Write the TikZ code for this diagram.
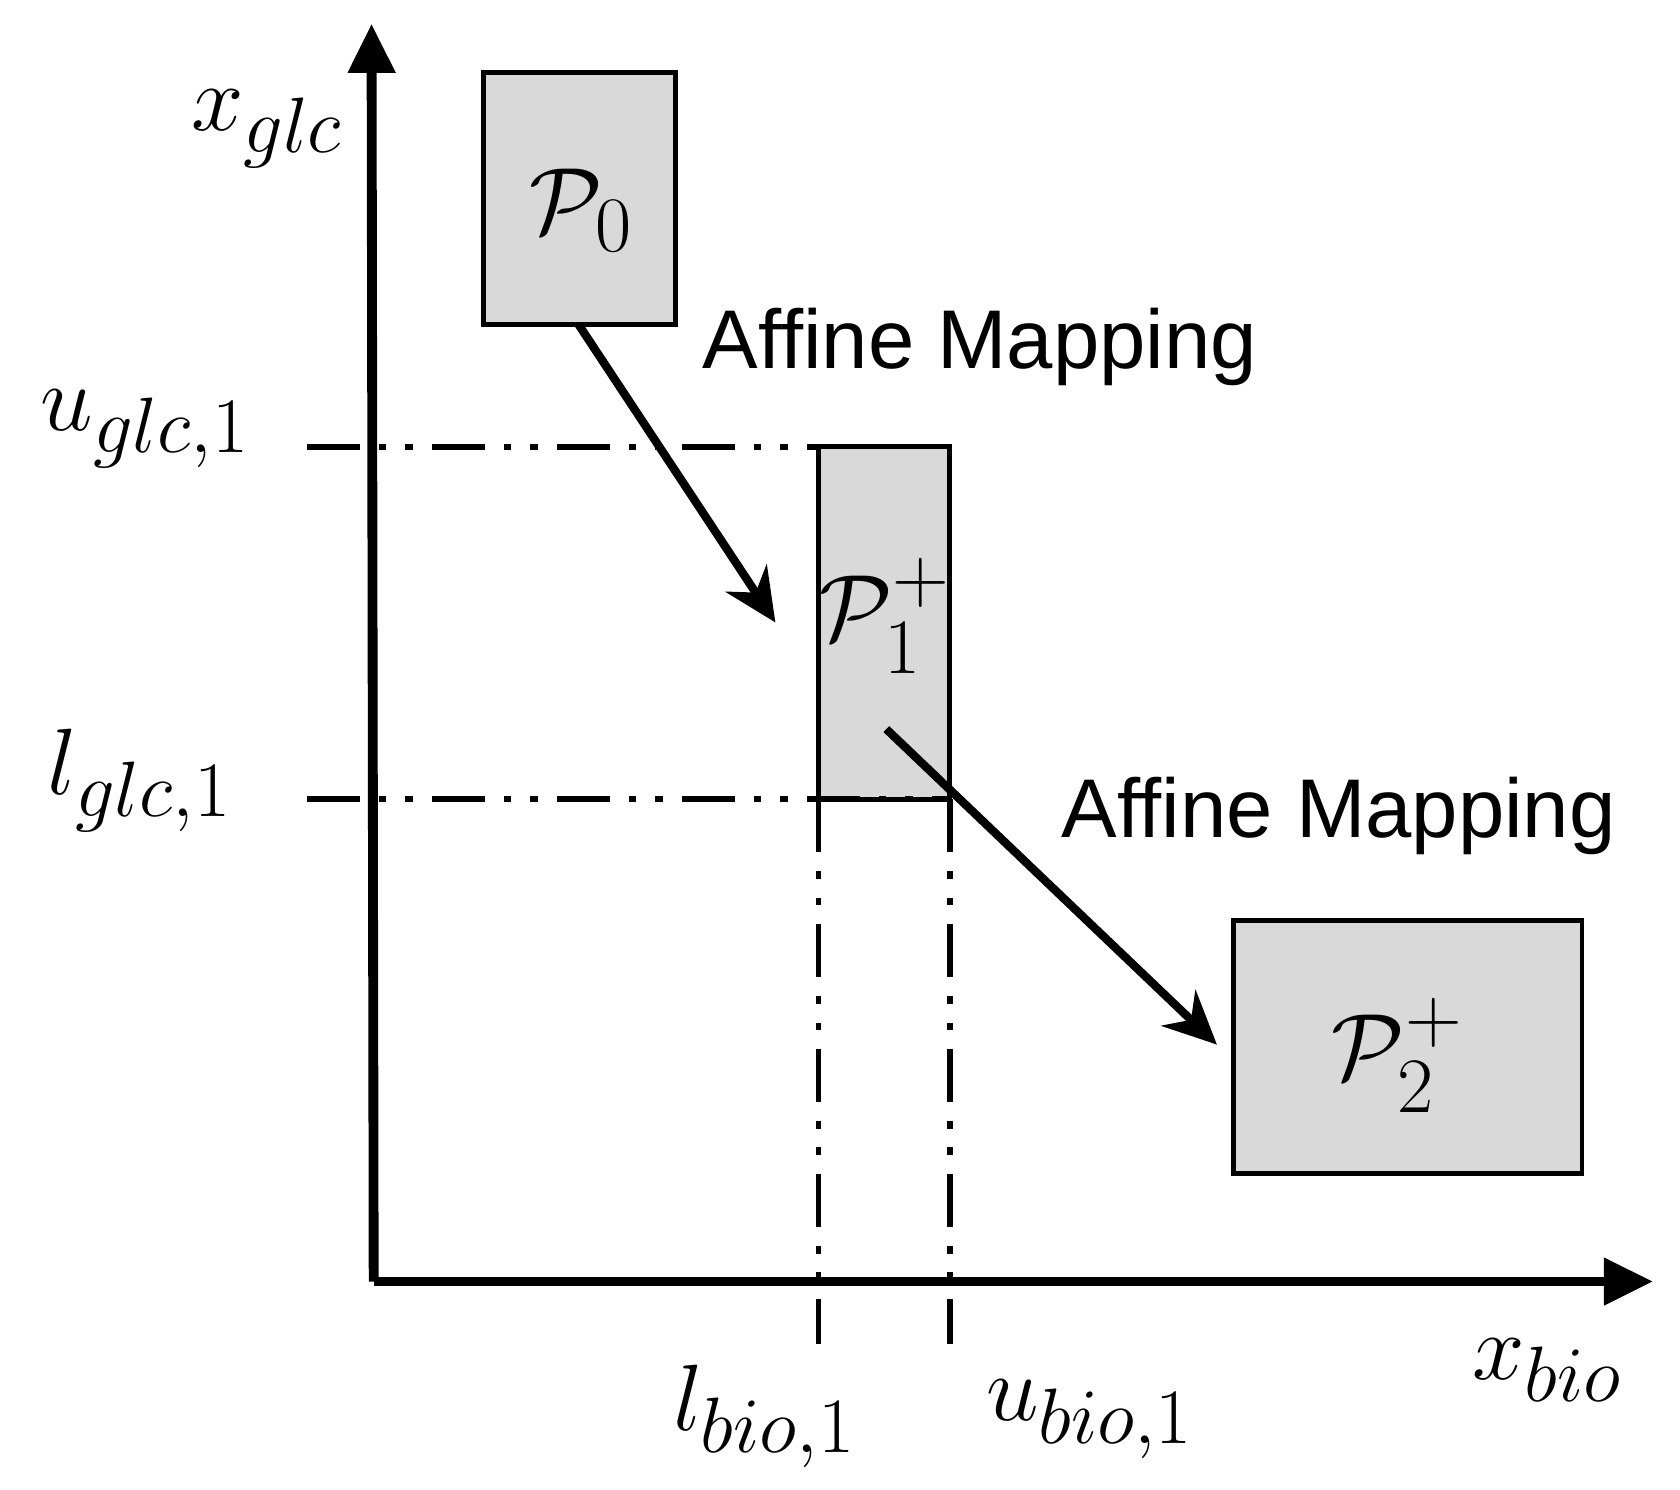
\documentclass[tikz,border=0pt]{standalone}
\usepackage{fontspec}
\setmainfont{Liberation Sans}
\usepackage{amsmath}
\usetikzlibrary{arrows.meta}
\begin{document}
\begin{tikzpicture}[x=0.01cm, y=-0.01cm,
	box/.style={draw, fill=black!15, line width=1.3pt},
	guide/.style={line width=1.4pt, dash pattern=on 14pt off 5pt on 2pt off 5pt on 2pt off 5pt},
	axis/.style={line width=2.6pt, -{Triangle[length=13pt, width=12pt]}},
	map/.style={line width=2.2pt, -{Stealth[length=14pt, width=13pt]}},
	lbl/.style={font=\fontsize{29}{34}\selectfont},
	txt/.style={font=\fontsize{22}{26}\selectfont}
	]
	\useasboundingbox (0,0) rectangle (1560,1383);
	
	% Axes
	\coordinate (o) at (347,1190);
	\coordinate (xe) at (1535,1190);
	\coordinate (ye) at (345,22);
	\draw[axis] (o) -- (xe);
	\draw[axis] (o) -- (ye);
	
	% Boxes
	\draw[box] (449,67) rectangle (627,301);
	\draw[box] (760,415) rectangle (882,742);
	\draw[box] (1145,855) rectangle (1469,1090);
	\node[lbl] (p0) at (540,195) {$\mathcal{P}_0$};
	\node[lbl] (p1) at (822,572) {$\mathcal{P}^+_1$};
	\node[lbl] (p2) at (1298,980) {$\mathcal{P}^+_2$};
	
	% Bounds
	\coordinate (ug) at (285,415);
	\coordinate (lg) at (285,742);
	\coordinate (lb) at (760,1248);
	\coordinate (ub) at (882,1248);
	\draw[guide] (ug) -- (760,415);
	\draw[guide] (lg) -- (882,742);
	\draw[guide] (760,742) -- (lb);
	\draw[guide] (882,742) -- (ub);
	
	% Mappings
	\coordinate (a1) at (537,301);
	\coordinate (b1) at (720,578);
	\coordinate (a2) at (823,677);
	\coordinate (b2) at (1130,970);
	\draw[map] (a1) -- (b1);
	\draw[map] (a2) -- (b2);
	\node[txt] (m1) at (910,322) {Affine Mapping};
	\node[txt] (m2) at (1243,758) {Affine Mapping};
	
	% Labels
	\node[lbl] (xg) at (248,120) {$x_{glc}$};
	\node[lbl] (ugl) at (135,398) {$u_{glc,1}$};
	\node[lbl] (lgl) at (130,725) {$l_{glc,1}$};
	\node[lbl] (xb) at (1437,1272) {$x_{bio}$};
	\node[lbl] (lbl1) at (710,1315) {$l_{bio,1}$};
	\node[lbl] (ubl1) at (1012,1318) {$u_{bio,1}$};
\end{tikzpicture}
\end{document}
